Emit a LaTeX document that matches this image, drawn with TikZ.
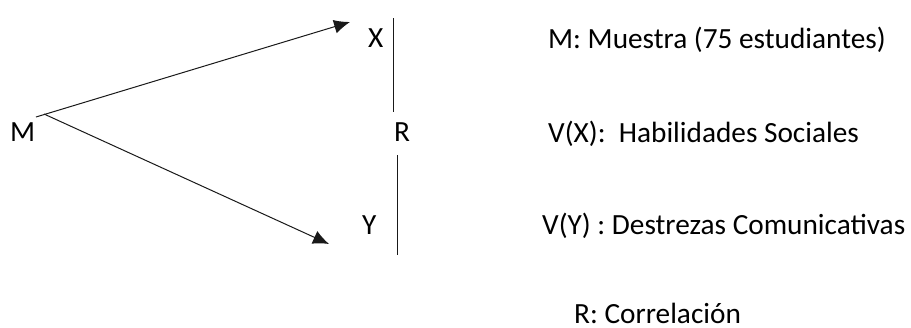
\documentclass[tikz,border=0pt]{standalone}
\usepackage{fontspec}
\setmainfont{Carlito}
\usetikzlibrary{arrows.meta}
\tikzset{lab/.style={inner sep=0pt,font=\fontsize{29.4}{34}\selectfont,anchor=base west},
con/.style={line width=1bp,black!90},
arr/.style={con,-{Latex[length=16pt,width=14pt]}}}
\begin{document}
\begin{tikzpicture}[x=1bp,y=-1bp]
\useasboundingbox (0,0) rectangle (911,327);
\node[lab] (m) at (10,141) {M};
\node[lab] (x) at (368,47) {X};
\node[lab] (y) at (362,234) {Y};
\node[lab] (r) at (394,141) {R};
\node[lab] (t1) at (548,48) {M: Muestra (75 estudiantes)};
\node[lab] (t2) at (548,142) {V(X):\ \ Habilidades Sociales};
\node[lab] (t3) at (542,234) {V(Y) : Destrezas Comunicativas};
\node[lab] (t4) at (574,323) {R: Correlación};
\coordinate (o1) at (36,117);
\coordinate (o2) at (44,114);
\coordinate (a) at (350,22);
\coordinate (b) at (329,244);
\coordinate (c1) at (393,18);
\coordinate (c2) at (393,112);
\coordinate (d1) at (397.5,155);
\coordinate (d2) at (397.5,255);
\draw[arr] (o1) -- (a);
\draw[arr] (o2) -- (b);
\draw[con] (c1) -- (c2);
\draw[con] (d1) -- (d2);
\end{tikzpicture}
\end{document}
